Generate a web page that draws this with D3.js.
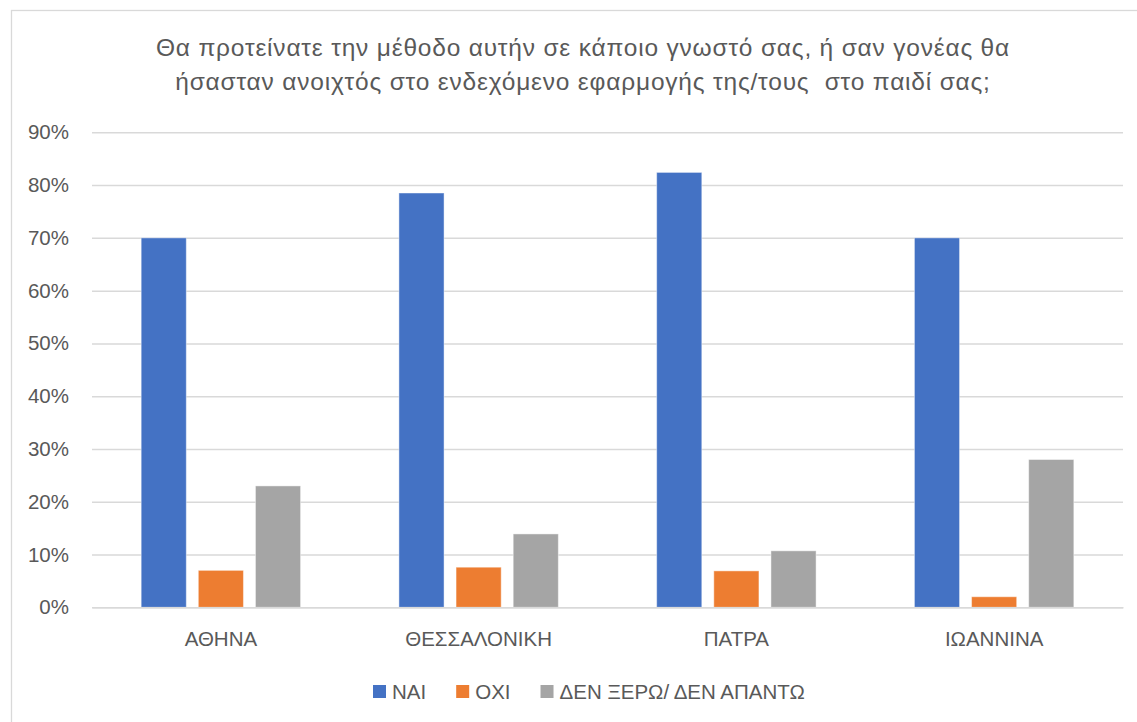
<!DOCTYPE html>
<html>
<head>
<meta charset="utf-8">
<script src="https://cdn.jsdelivr.net/npm/d3@7"></script>
<style>
  html, body { margin: 0; padding: 0; background: #fff; }
  svg { display: block; }
  text { fill: #595959; font-family: "Liberation Sans", Arial, sans-serif; }
</style>
</head>
<body>
<svg id="chart" width="1137" height="722"></svg>
<script>
// Survey answers per city (share of respondents)
const cities = ["ΑΘΗΝΑ", "ΘΕΣΣΑΛΟΝΙΚΗ", "ΠΑΤΡΑ", "ΙΩΑΝΝΙΝΑ"];
const seriesNames = ["ΝΑΙ", "ΟΧΙ", "ΔΕΝ ΞΕΡΩ/ ΔΕΝ ΑΠΑΝΤΩ"];
const yesValues = [0.70, 0.785, 0.824, 0.70];
const noValues = [0.07, 0.076, 0.069, 0.02];
const dontKnowValues = [0.23, 0.139, 0.107, 0.28];
const yTicks = [0, 0.1, 0.2, 0.3, 0.4, 0.5, 0.6, 0.7, 0.8, 0.9];
const titleLines = [
  "Θα προτείνατε την μέθοδο αυτήν σε κάποιο γνωστό σας, ή σαν γονέας θα",
  "ήσασταν ανοιχτός στο ενδεχόμενο εφαρμογής της/τους  στο παιδί σας;"
];
const colors = ["#4472C4", "#ED7D31", "#A5A5A5"];

const seriesValues = [yesValues, noValues, dontKnowValues];
const rows = cities.map((c, i) => ({
  city: c,
  values: seriesNames.map((s, j) => ({ series: s, value: seriesValues[j][i] }))
}));

const svg = d3.select("#chart");

// chart frame
svg.append("rect")
  .attr("x", 11.5).attr("y", 10.5)
  .attr("width", 1140).attr("height", 730)
  .attr("fill", "#fff").attr("stroke", "#d9d9d9").attr("stroke-width", 1.3);

// title
const title = svg.append("text")
  .attr("text-anchor", "middle")
  .style("font-size", "24.5px")
  .style("letter-spacing", "0.8px");
titleLines.forEach((line, i) => {
  title.append("tspan")
    .attr("x", 583)
    .attr("y", 56 + i * 34)
    .attr("xml:space", "preserve")
    .text(line);
});

const plot = { left: 92, right: 1123, top: 132.3, bottom: 607.3 };

const y = d3.scaleLinear().domain([0, 0.9]).range([plot.bottom, plot.top]);

const x0 = d3.scaleBand()
  .domain(cities)
  .range([plot.left, plot.right])
  .paddingInner(0.3815)
  .paddingOuter(0.19075);

const x1 = d3.scaleBand()
  .domain(seriesNames)
  .range([0, x0.bandwidth()])
  .paddingInner(0.21)
  .paddingOuter(0);

const color = d3.scaleOrdinal().domain(seriesNames).range(colors);

// gridlines + y labels
const yAxis = d3.axisLeft(y)
  .tickValues(yTicks)
  .tickFormat(d3.format(".0%"))
  .tickSize(-(plot.right - plot.left))
  .tickPadding(23);

const yg = svg.append("g")
  .attr("transform", `translate(${plot.left},0)`)
  .call(yAxis);
yg.select(".domain").remove();
yg.selectAll(".tick line").attr("stroke", "#d9d9d9").attr("stroke-width", 1.5);
yg.selectAll(".tick text")
  .style("font-size", "20.5px")
  .style("font-family", "'Liberation Sans', Arial, sans-serif")
  .attr("fill", "#595959");

// bars
const groups = svg.append("g")
  .selectAll("g")
  .data(rows)
  .join("g")
  .attr("transform", d => `translate(${x0(d.city)},0)`);

groups.selectAll("rect")
  .data(d => d.values)
  .join("rect")
  .attr("x", d => x1(d.series))
  .attr("y", d => y(d.value))
  .attr("width", x1.bandwidth())
  .attr("height", d => y(0) - y(d.value))
  .attr("fill", d => color(d.series))
  .attr("stroke", "rgba(255,255,255,0.45)")
  .attr("stroke-width", 1);

// category axis
const xAxis = d3.axisBottom(x0).tickSize(0).tickPadding(24);
const xg = svg.append("g")
  .attr("transform", `translate(0,${plot.bottom})`)
  .call(xAxis);
xg.select(".domain")
  .attr("stroke", "#d9d9d9").attr("stroke-width", 1.5);
xg.selectAll(".tick text")
  .style("font-size", "20.5px")
  .style("font-family", "'Liberation Sans', Arial, sans-serif")
  .attr("fill", "#595959");

// legend
const legend = svg.append("g").attr("transform", "translate(373,685)");
let lx = 0;
seriesNames.forEach((name, i) => {
  const item = legend.append("g").attr("transform", `translate(${lx},0)`);
  item.append("rect")
    .attr("width", 13).attr("height", 13)
    .attr("fill", colors[i]);
  const t = item.append("text")
    .attr("x", 19).attr("y", 13.5)
    .style("font-size", "20.5px")
    .text(name);
  lx += 19 + t.node().getComputedTextLength() + 30;
});
</script>
</body>
</html>
